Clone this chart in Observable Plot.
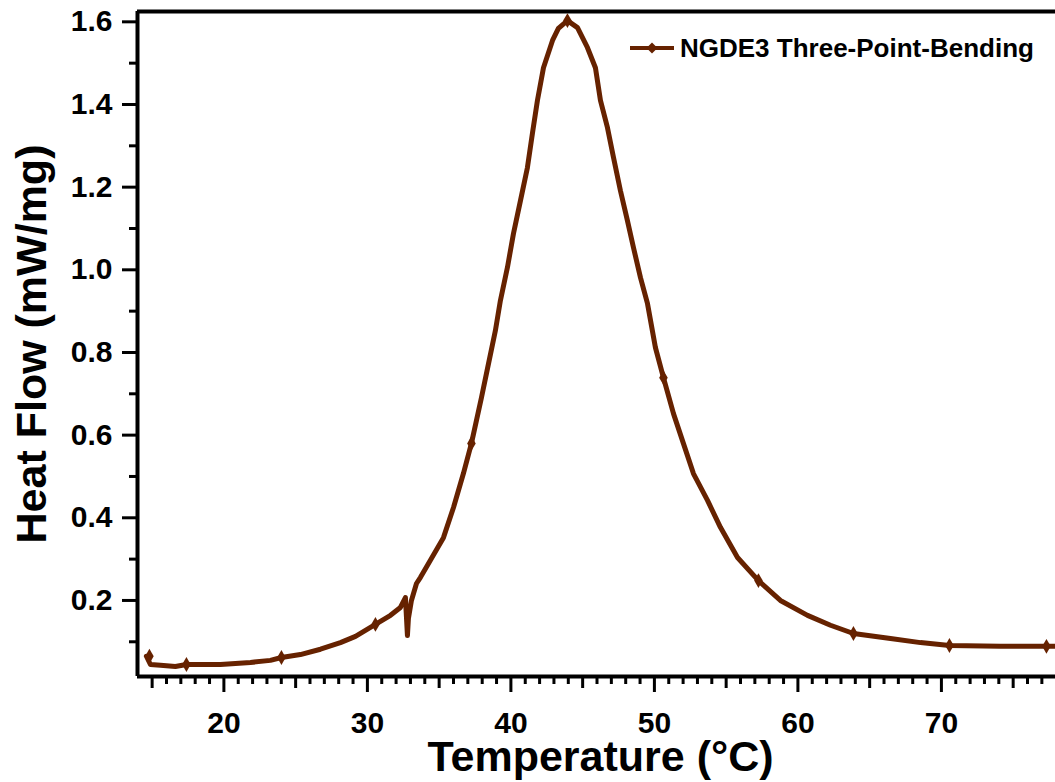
<!DOCTYPE html>
<html>
<head>
<meta charset="utf-8">
<script src="https://cdn.jsdelivr.net/npm/d3@7"></script>
<script src="https://cdn.jsdelivr.net/npm/@observablehq/plot@0.6"></script>
<style>
  html, body { margin: 0; padding: 0; background: #fff; }
  #wrap { position: relative; width: 1055px; height: 782px; overflow: hidden; }
  #legend { position: absolute; left: 629px; top: 34px; height: 28px; display: flex; align-items: center;
            font-family: "Liberation Sans", Arial, sans-serif; font-weight: bold; font-size: 26px; color: #000; white-space: nowrap; }
  #legend span { margin-left: 5px; }
</style>
</head>
<body>
<div id="wrap"></div>
<script>
// ---- data ----
const seriesName = "NGDE3 Three-Point-Bending";
const temps = [14.60, 14.88, 15.58, 16.62, 17.39, 19.76, 21.85, 23.24, 24.01, 25.33, 26.73, 28.12, 29.17, 30.56,
  31.61, 32.30, 32.65, 32.72, 32.79, 32.86, 33.07, 33.42, 33.70, 34.39, 35.30, 36.00, 36.69, 37.25, 37.95, 38.44,
  38.92, 39.27, 39.76, 40.18, 40.67, 41.15, 41.50, 41.85, 42.27, 42.90, 43.31, 43.94, 44.64, 45.33, 45.89, 46.24,
  46.73, 47.15, 47.63, 48.12, 48.54, 49.03, 49.52, 50.07, 50.63, 51.33, 52.02, 52.72, 53.70, 54.60, 55.79, 57.25,
  58.78, 60.67, 62.27, 63.87, 66.45, 68.54, 70.56, 74.11, 77.32, 77.95];
const flows = [0.065, 0.045, 0.043, 0.040, 0.045, 0.045, 0.050, 0.055, 0.062, 0.069, 0.082, 0.098, 0.113, 0.142,
  0.164, 0.183, 0.207, 0.161, 0.115, 0.157, 0.200, 0.241, 0.256, 0.297, 0.352, 0.425, 0.507, 0.580, 0.691, 0.773,
  0.853, 0.926, 1.006, 1.088, 1.168, 1.247, 1.330, 1.410, 1.489, 1.555, 1.584, 1.603, 1.586, 1.538, 1.489, 1.410,
  1.344, 1.272, 1.192, 1.119, 1.054, 0.981, 0.918, 0.812, 0.739, 0.652, 0.580, 0.507, 0.442, 0.377, 0.304, 0.248,
  0.200, 0.164, 0.140, 0.120, 0.108, 0.098, 0.091, 0.089, 0.089, 0.089];
// symbol markers on the curve
const markerTemps = [14.81, 17.39, 24.01, 30.56, 37.25, 43.94, 50.63, 57.25, 63.87, 70.56, 77.32];
const markerFlows = [0.065, 0.045, 0.062, 0.142, 0.580, 1.603, 0.739, 0.248, 0.120, 0.091, 0.089];

const xDomain = [13.98, 77.95];
const yDomain = [0.016, 1.625];
const xTicks = [20, 30, 40, 50, 60, 70];
const xMidTicks = [15, 25, 35, 45, 55, 65, 75];
const xMinorTicks = d3.range(15, 78).filter(v => v % 5 !== 0);
const yTicks = [0.2, 0.4, 0.6, 0.8, 1.0, 1.2, 1.4, 1.6];
const yMinorTicks = [0.1, 0.3, 0.5, 0.7, 0.9, 1.1, 1.3, 1.5];
const xTitle = "Temperature (°C)";
const yTitle = "Heat Flow (mW/mg)";
const lineColor = "#662200";

const data = temps.map((t, i) => ({T: t, V: flows[i]}));
const markers = markerTemps.map((t, i) => ({T: t, V: markerFlows[i]}));

const font = "'Liberation Sans', Arial, sans-serif";

const chart = Plot.plot({
  width: 1055,
  height: 782,
  marginLeft: 137,
  marginRight: 0,
  marginTop: 11,
  marginBottom: 106,
  style: {fontFamily: font, color: "#000", background: "#fff", overflow: "visible"},
  x: {domain: xDomain},
  y: {domain: yDomain},
  marks: [
    // axis frame lines
    Plot.ruleX([xDomain[0]], {stroke: "#000", strokeWidth: 4}),
    Plot.ruleY([yDomain[0]], {stroke: "#000", strokeWidth: 4}),
    Plot.ruleY([yDomain[1]], {stroke: "#000", strokeWidth: 4}),
    // x axis ticks
    Plot.axisX(xMinorTicks, {tickSize: 8, strokeWidth: 3, text: null, label: null}),
    Plot.axisX(xMidTicks, {tickSize: 12, strokeWidth: 3, text: null, label: null}),
    Plot.axisX(xTicks, {tickSize: 16, strokeWidth: 3, tickPadding: 19, fontSize: 30, fontWeight: "bold", label: null}),
    // y axis ticks
    Plot.axisY(yMinorTicks, {tickSize: 8, strokeWidth: 3, text: null, label: null}),
    Plot.axisY(yTicks, {tickSize: 15, strokeWidth: 3, tickPadding: 10, fontSize: 30, fontWeight: "bold",
      tickFormat: d3.format(".1f"), label: null}),
    // axis titles
    Plot.text([xTitle], {frameAnchor: "bottom", textAnchor: "middle", lineAnchor: "middle", dx: 4, dy: 81,
      fontSize: 43, fontWeight: "bold", fill: "#000"}),
    Plot.text([yTitle], {frameAnchor: "left", textAnchor: "middle", lineAnchor: "middle", dx: -105, rotate: -90,
      fontSize: 43, fontWeight: "bold", fill: "#000"}),
    // the series
    Plot.line(data, {x: "T", y: "V", stroke: lineColor, strokeWidth: 5, strokeLinejoin: "round", strokeLinecap: "round"}),
    Plot.dot(markers, {x: "T", y: "V", symbol: "diamond", r: 4.5, fill: lineColor, stroke: null})
  ]
});

const wrap = document.getElementById("wrap");
wrap.appendChild(chart);

// legend
const legend = document.createElement("div");
legend.id = "legend";
legend.innerHTML =
  `<svg width="46" height="28" viewBox="0 0 46 28"><line x1="1" y1="14" x2="45" y2="14" stroke="${lineColor}" stroke-width="4"/>` +
  `<polygon points="23,8.5 28.5,14 23,19.5 17.5,14" fill="${lineColor}"/></svg><span></span>`;
legend.querySelector("span").textContent = seriesName;
wrap.appendChild(legend);
</script>
</body>
</html>
